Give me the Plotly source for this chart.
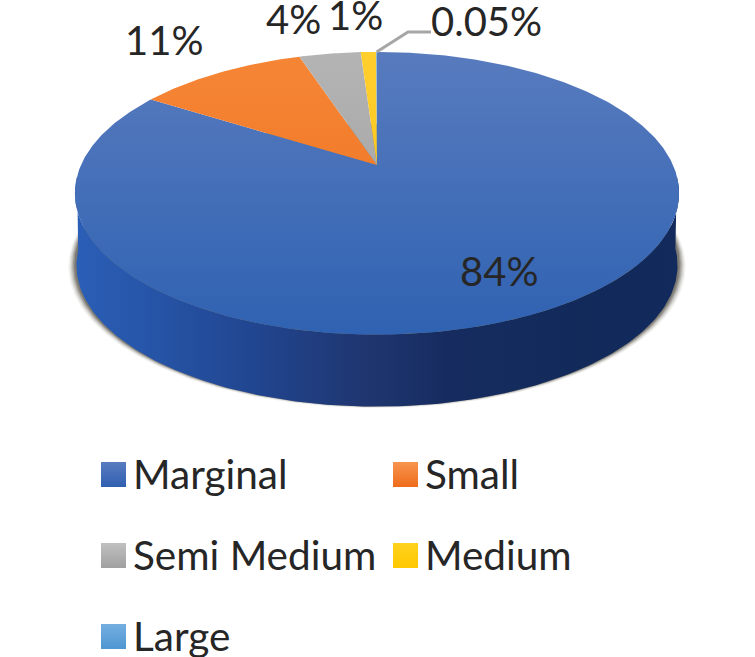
import numpy as np
import plotly.graph_objects as go

# Data
categories = ["Marginal", "Small", "Semi Medium", "Medium", "Large"]
values = [84, 11, 4, 1, 0.05]
value_labels = ["84%", "11%", "4%", "1%", "0.05%"]

# Style
top_colors = [("#587bbe", "#2f62b2"), ("#f58636", "#ee6f1c"), ("#b4b4b4", "#9c9c9c"),
              ("#ffcf2e", "#fabf10"), ("#6ca6dc", "#4f92d0")]
swatch_colors = [("#5a7cc0", "#2f5fb0"), ("#f79450", "#ee6c1a"), ("#c0c0c0", "#a0a0a0"),
                 ("#ffd21e", "#ffc800"), ("#74aee0", "#4f96d2")]
FONT = "Lato"
TEXT = "#262626"
W, H = 755, 657

# Projection of the pie's circular top onto the page (tilted, with perspective)
CX, CY, A, B, K = 377.0, 165.0, 135.7, 296.0, 0.2
DEPTH = 72.0


def project(theta, xscale=1.0, dy=0.0):
    s, c = np.sin(theta), np.cos(theta)
    w = 1 + K * c
    return CX + xscale * B * s / w, CY - A * c / w + dy


fig = go.Figure()


def add_poly(x, y, **kw):
    fig.add_trace(go.Scatter(x=x, y=y, mode="lines", fill="toself", line=dict(width=0),
                             hoverinfo="skip", showlegend=False, **kw))


# Soft shadow under the disc
full = np.linspace(0, 2 * np.pi, 361)
for xs, dy, alpha in [(1.022, 1.5, 0.05), (1.018, 1.0, 0.08), (1.014, 0.5, 0.12),
                      (1.01, 0.0, 0.16), (1.006, 0.0, 0.22), (1.002, -0.5, 0.3)]:
    sx, sy = project(full, xs, DEPTH + dy)
    add_poly(sx, sy, fillcolor=f"rgba(55,50,40,{alpha})")

# Side wall
t0 = np.arccos(-K)
arc = np.linspace(t0 - 0.12, 2 * np.pi - t0 + 0.12, 241)
tx, ty = project(arc)
bx, by = project(arc, 0.995, DEPTH)
add_poly(np.r_[tx, bx[::-1]], np.r_[ty, by[::-1]],
         fillgradient=dict(type="horizontal", start=78, stop=676,
                           colorscale=[[0, "#2b5eb6"], [0.12, "#2655a8"], [0.3, "#21458f"],
                                       [0.48, "#1f3670"], [0.62, "#162c60"], [0.85, "#122a5a"],
                                       [1, "#122a5c"]]))

# Top face: slices clockwise from 12 o'clock
total = sum(values)
edges = np.r_[0, np.cumsum(values)] / total * 2 * np.pi
for i, cat in enumerate(categories):
    n = max(3, int((edges[i + 1] - edges[i]) * 90))
    th = np.linspace(edges[i], edges[i + 1], n)
    px, py = project(th)
    add_poly(np.r_[CX, px, CX], np.r_[CY, py, CY], name=cat,
             fillgradient=dict(type="vertical", start=52, stop=335,
                               colorscale=[[0, top_colors[i][0]], [1, top_colors[i][1]]]))

# Leader line for the smallest slice
mid = (edges[4] + edges[5]) / 2
lx, ly = project(np.array([mid]))
fig.add_trace(go.Scatter(x=[lx[0], 408, 431], y=[ly[0], 32, 32], mode="lines",
                         line=dict(color="#a6a6a6", width=3), hoverinfo="skip", showlegend=False))

# Value labels
label_pos = [(499, 271), (164, 40), (293, 19), (355, 15), (486, 21)]
anns = []
for t, (x, y) in zip(value_labels, label_pos):
    anns.append(dict(x=x, y=y, text=t, showarrow=False, xanchor="center", yanchor="middle",
                     font=dict(family=FONT, size=40, color=TEXT)))

# Legend
leg_x = [101, 393, 101, 393, 101]
leg_y = [474.5, 474.5, 555.5, 555.5, 636.5]
for i, cat in enumerate(categories):
    fig.add_trace(go.Scatter(x=[leg_x[i] + 12.5], y=[leg_y[i]], mode="markers", name=cat,
                             marker=dict(symbol="square", size=25, color=swatch_colors[i][0],
                                         line=dict(width=0),
                                         gradient=dict(type="vertical", color=swatch_colors[i][1])),
                             hoverinfo="skip", showlegend=False))
    anns.append(dict(x=leg_x[i] + 29.5, y=leg_y[i] - 1, text=cat, showarrow=False, xanchor="left",
                     yanchor="middle", font=dict(family=FONT, size=40.5, color=TEXT)))

fig.update_layout(
    width=W, height=H, margin=dict(l=0, r=0, t=0, b=0), autosize=False,
    paper_bgcolor="white", plot_bgcolor="white", showlegend=False, annotations=anns,
    xaxis=dict(range=[0, W], visible=False, fixedrange=True),
    yaxis=dict(range=[H, 0], visible=False, fixedrange=True),
)
fig.write_html("out.html", config=dict(displayModeBar=False),
               post_script="document.body.style.margin='0';document.documentElement.style.overflow='hidden';")
